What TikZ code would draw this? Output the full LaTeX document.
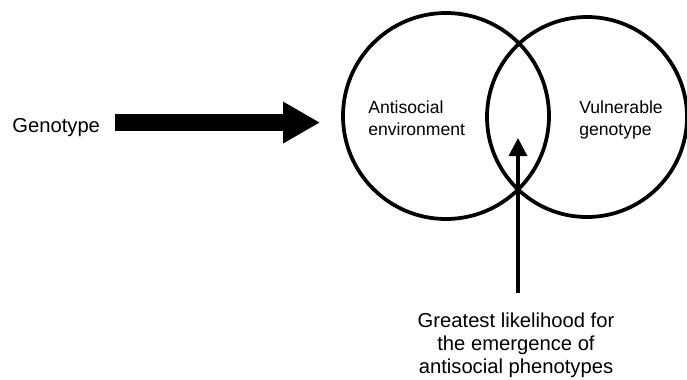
\documentclass[tikz,border=0pt]{standalone}
\usepackage{fontspec}
\setmainfont{Liberation Sans}
\usetikzlibrary{arrows.meta,positioning}
\newcommand{\ringfont}{\fontsize{10}{12.5}\selectfont}
\newcommand{\bigfont}{\fontsize{11.5}{13.1}\selectfont}

\tikzset{
  ring/.style={draw, circle, line width=0.075cm, inner sep=0pt},
  ringtext/.style={anchor=north west, inner sep=0pt, align=left, font=\ringfont},
  fatarrow/.style={line width=0.34cm, -{Triangle[length=0.74cm,width=0.78cm]}},
  thinarrow/.style={line width=0.065cm, -{Triangle[length=0.36cm,width=0.36cm]}}
}

\begin{document}
\begin{tikzpicture}
  \useasboundingbox (0,0) rectangle (13.74,7.58);
  \node[ring, minimum size=4.12cm] (env) at (8.92,5.26) {};
  \node[ring, minimum size=4.0cm] (vul) at (11.74,5.24) {};
  \node[ringtext] (envtext) at (7.36,5.58) {Antisocial\\environment};
  \node[ringtext] (vultext) at (11.58,5.58) {Vulnerable\\genotype};
  \node[anchor=base west, inner sep=0pt, font=\bigfont] (geno) at (0.24,4.93) {Genotype};
  \coordinate (focus) at (10.36,4.82);
  \node[below=3.48cm of focus, xshift=-0.04cm, inner sep=0pt, align=center, font=\bigfont] (outcome)
    {Greatest likelihood for\\the emergence of\\antisocial phenotypes};
  \draw[fatarrow, shorten >=0.42cm] ([xshift=0.3cm,yshift=0.1cm]geno.east) coordinate (g) -- (g -| env.west);
  \draw[thinarrow] ([xshift=0.04cm,yshift=0.38cm]outcome.north) -- (focus);
\end{tikzpicture}
\end{document}
